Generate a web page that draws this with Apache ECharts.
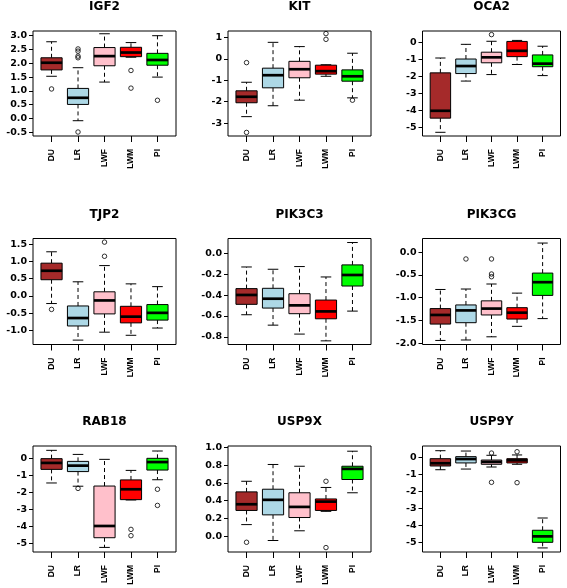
<!DOCTYPE html>
<html><head><meta charset="utf-8">
<script src="https://cdn.jsdelivr.net/npm/echarts@6/dist/echarts.min.js"></script>
<style>html,body{margin:0;padding:0;background:#fff}#c{width:567px;height:588px}</style>
</head><body><div id="c"></div>
<script>
// ---------- data ----------
const categories = ['DU', 'LR', 'LWF', 'LWM', 'PI'];
const genes = ['IGF2', 'KIT', 'OCA2', 'TJP2', 'PIK3C3', 'PIK3CG', 'RAB18', 'USP9X', 'USP9Y'];
// each row: [lower whisker, Q1, median, Q3, upper whisker]
const igf2Stats   = [[1.53, 1.76, 2.02, 2.20, 2.78], [-0.08, 0.51, 0.75, 1.09, 1.84], [1.32, 1.91, 2.26, 2.57, 3.07], [2.22, 2.24, 2.39, 2.58, 2.75], [1.50, 1.93, 2.12, 2.36, 3.00]];
const kitStats    = [[-2.70, -2.05, -1.77, -1.49, -1.09], [-2.19, -1.35, -0.76, -0.43, 0.78], [-1.93, -0.88, -0.48, -0.11, 0.58], [-0.81, -0.71, -0.57, -0.29, -0.27], [-1.82, -1.04, -0.81, -0.51, 0.27]];
const oca2Stats   = [[-5.27, -4.44, -4.01, -1.79, -0.92], [-2.27, -1.83, -1.39, -0.98, -0.12], [-1.89, -1.20, -0.88, -0.58, 0.06], [-1.30, -0.84, -0.50, 0.05, 0.11], [-1.95, -1.43, -1.25, -0.74, -0.23]];
const tjp2Stats   = [[-0.22, 0.47, 0.73, 0.95, 1.28], [-1.28, -0.87, -0.64, -0.29, 0.41], [-1.05, -0.52, -0.13, 0.12, 0.88], [-1.14, -0.78, -0.60, -0.30, 0.35], [-0.93, -0.70, -0.49, -0.25, 0.27]];
const pik3c3Stats = [[-0.588, -0.488, -0.398, -0.337, -0.129], [-0.688, -0.524, -0.434, -0.334, -0.151], [-0.774, -0.578, -0.498, -0.386, -0.125], [-0.839, -0.627, -0.556, -0.447, -0.225], [-0.553, -0.312, -0.206, -0.109, 0.106]];
const pik3cgStats = [[-1.94, -1.58, -1.38, -1.24, -0.82], [-1.93, -1.55, -1.28, -1.16, -0.81], [-1.86, -1.38, -1.24, -1.07, -0.70], [-1.63, -1.47, -1.33, -1.22, -0.90], [-1.46, -0.95, -0.66, -0.46, 0.20]];
const rab18Stats  = [[-1.43, -0.63, -0.25, 0.00, 0.49], [-1.62, -0.76, -0.41, -0.16, 0.25], [-5.22, -4.65, -3.96, -1.61, -0.04], [-2.43, -2.41, -1.80, -1.25, -0.69], [-1.24, -0.67, -0.20, 0.02, 0.45]];
const usp9xStats  = [[0.13, 0.29, 0.36, 0.50, 0.62], [-0.05, 0.24, 0.41, 0.53, 0.81], [0.06, 0.21, 0.33, 0.49, 0.79], [0.28, 0.29, 0.39, 0.42, 0.55], [0.49, 0.64, 0.76, 0.79, 0.96]];
const usp9yStats  = [[-0.71, -0.49, -0.33, -0.06, 0.41], [-0.67, -0.31, -0.08, 0.06, 0.39], [-0.55, -0.39, -0.25, -0.14, 0.14], [-0.39, -0.31, -0.16, -0.06, 0.16], [-5.31, -4.98, -4.63, -4.27, -3.55]];

// outliers: [category index (0-based), value]
const igf2Outliers   = [[0, 1.07], [1, 2.52], [1, 2.44], [1, 2.26], [1, 2.20], [1, -0.49], [3, 1.74], [3, 1.10], [4, 0.66]];
const kitOutliers    = [[0, -0.17], [0, -3.44], [3, 1.19], [3, 0.92], [4, -1.93]];
const oca2Outliers   = [[2, 0.45]];
const tjp2Outliers   = [[0, -0.39], [2, 1.56], [2, 1.15]];
const pik3c3Outliers = [];
const pik3cgOutliers = [[1, -0.15], [2, -0.15], [2, -0.48], [2, -0.54]];
const rab18Outliers  = [[1, -1.75], [3, -4.16], [3, -4.53], [4, -1.80], [4, -2.75]];
const usp9xOutliers  = [[0, -0.07], [3, 0.62], [3, -0.13]];
const usp9yOutliers  = [[2, 0.27], [2, -1.45], [3, 0.35], [3, -1.47]];

// y tick values and axis limits
const igf2Ticks   = [-0.5, 0, 0.5, 1, 1.5, 2, 2.5, 3];
const kitTicks    = [-3, -2, -1, 0, 1];
const oca2Ticks   = [-5, -4, -3, -2, -1, 0];
const tjp2Ticks   = [-1, -0.5, 0, 0.5, 1, 1.5];
const pik3c3Ticks = [-0.8, -0.6, -0.4, -0.2, 0];
const pik3cgTicks = [-2, -1.5, -1, -0.5, 0];
const rab18Ticks  = [-5, -4, -3, -2, -1, 0];
const usp9xTicks  = [0, 0.2, 0.4, 0.6, 0.8, 1];
const usp9yTicks  = [-5, -4, -3, -2, -1, 0];
const tickDecimals = [1, 0, 0, 1, 1, 1, 0, 1, 0];
const yLimits = [[-0.634, 3.17], [-3.607, 1.311], [-5.486, 0.661], [-1.407, 1.665], [-0.874, 0.1446], [-2.029, 0.300], [-5.49, 0.745], [-0.180, 1.019], [-5.549, 0.686]];

const allStats = [igf2Stats, kitStats, oca2Stats, tjp2Stats, pik3c3Stats, pik3cgStats, rab18Stats, usp9xStats, usp9yStats];
const allOutliers = [igf2Outliers, kitOutliers, oca2Outliers, tjp2Outliers, pik3c3Outliers, pik3cgOutliers, rab18Outliers, usp9xOutliers, usp9yOutliers];
const allTicks = [igf2Ticks, kitTicks, oca2Ticks, tjp2Ticks, pik3c3Ticks, pik3cgTicks, rab18Ticks, usp9xTicks, usp9yTicks];

// ---------- layout & style ----------
const boxColors = ['#A52A2A', '#ADD8E6', '#FFC0CB', '#FF0000', '#00FF00'];
const colLeft = [33, 228, 422.5];
const colWidth = [143, 143, 138];
const rowTop = [31, 238.5, 446];
const rowHeight = [105, 106, 106];
const catPositions = [1, 2, 3, 4, 5];

function renderBox(params, api) {
  const x = api.value(0);
  const lo = api.coord([x, api.value(1)]);
  const q1 = api.coord([x, api.value(2)]);
  const md = api.coord([x, api.value(3)]);
  const q3 = api.coord([x, api.value(4)]);
  const hi = api.coord([x, api.value(5)]);
  const bw = api.size([0.8, 0])[0];
  const sw = api.size([0.4, 0])[0];
  const cx = lo[0];
  const color = boxColors[params.dataIndex];
  const dash = { stroke: '#000', lineWidth: 1, lineDash: [4, 3] };
  const solid = { stroke: '#000', lineWidth: 1 };
  return {
    type: 'group',
    children: [
      { type: 'line', shape: { x1: cx, y1: q3[1], x2: cx, y2: hi[1] }, style: dash },
      { type: 'line', shape: { x1: cx, y1: q1[1], x2: cx, y2: lo[1] }, style: dash },
      { type: 'line', shape: { x1: cx - sw / 2, y1: hi[1], x2: cx + sw / 2, y2: hi[1] }, style: solid },
      { type: 'line', shape: { x1: cx - sw / 2, y1: lo[1], x2: cx + sw / 2, y2: lo[1] }, style: solid },
      { type: 'rect', shape: { x: cx - bw / 2, y: q3[1], width: bw, height: q1[1] - q3[1] }, style: { fill: color, stroke: '#000', lineWidth: 1 } },
      { type: 'line', shape: { x1: cx - bw / 2, y1: md[1], x2: cx + bw / 2, y2: md[1] }, style: { stroke: '#000', lineWidth: 2.7 } }
    ]
  };
}

const grids = [], xAxes = [], yAxes = [], series = [], titles = [];
genes.forEach((g, i) => {
  const r = Math.floor(i / 3), c = i % 3;
  grids.push({ left: colLeft[c], top: rowTop[r], width: colWidth[c], height: rowHeight[r],
    show: true, borderColor: '#000', borderWidth: 1, backgroundColor: 'transparent', containLabel: false });
  titles.push({ text: g, left: colLeft[c] + colWidth[c] / 2, top: rowTop[r] - 30, textAlign: 'center', padding: 0,
    textStyle: { fontFamily: 'DejaVu Sans', fontWeight: 'bold', fontSize: 12, color: '#000' } });
  xAxes.push({ type: 'value', gridIndex: i, position: 'bottom', min: 0.3, max: 5.7, splitLine: { show: false },
    axisLine: { show: false, onZero: false },
    axisTick: { show: true, length: 6, customValues: catPositions, lineStyle: { color: '#000' } },
    axisLabel: { customValues: catPositions, rotate: 90, margin: 13, formatter: v => categories[Math.round(v) - 1],
      fontFamily: 'Liberation Sans', fontWeight: 'bold', fontSize: 8.5, color: '#000' } });
  yAxes.push({ type: 'value', gridIndex: i, position: 'left', min: yLimits[i][0], max: yLimits[i][1], splitLine: { show: false },
    axisLine: { show: false, onZero: false },
    axisTick: { show: true, length: 4, customValues: allTicks[i], lineStyle: { color: '#000' } },
    axisLabel: { customValues: allTicks[i], margin: 6, formatter: v => Number(v).toFixed(tickDecimals[i]),
      fontFamily: 'DejaVu Sans', fontWeight: 'bold', fontSize: 9.5, color: '#000' } });
  series.push({ type: 'custom', xAxisIndex: i, yAxisIndex: i, renderItem: renderBox,
    encode: { x: 0, y: [1, 2, 3, 4, 5] },
    data: allStats[i].map((s, k) => [catPositions[k]].concat(s)) });
  series.push({ type: 'scatter', xAxisIndex: i, yAxisIndex: i, symbol: 'circle', symbolSize: 4.5,
    itemStyle: { color: 'rgba(255,255,255,0)', borderColor: '#000', borderWidth: 1 },
    data: allOutliers[i].map(o => [catPositions[o[0]], o[1]]) });
});

const chart = echarts.init(document.getElementById('c'), null, { renderer: 'canvas' });
chart.setOption({ animation: false, backgroundColor: '#fff', title: titles, grid: grids, xAxis: xAxes, yAxis: yAxes, series: series });
</script></body></html>
